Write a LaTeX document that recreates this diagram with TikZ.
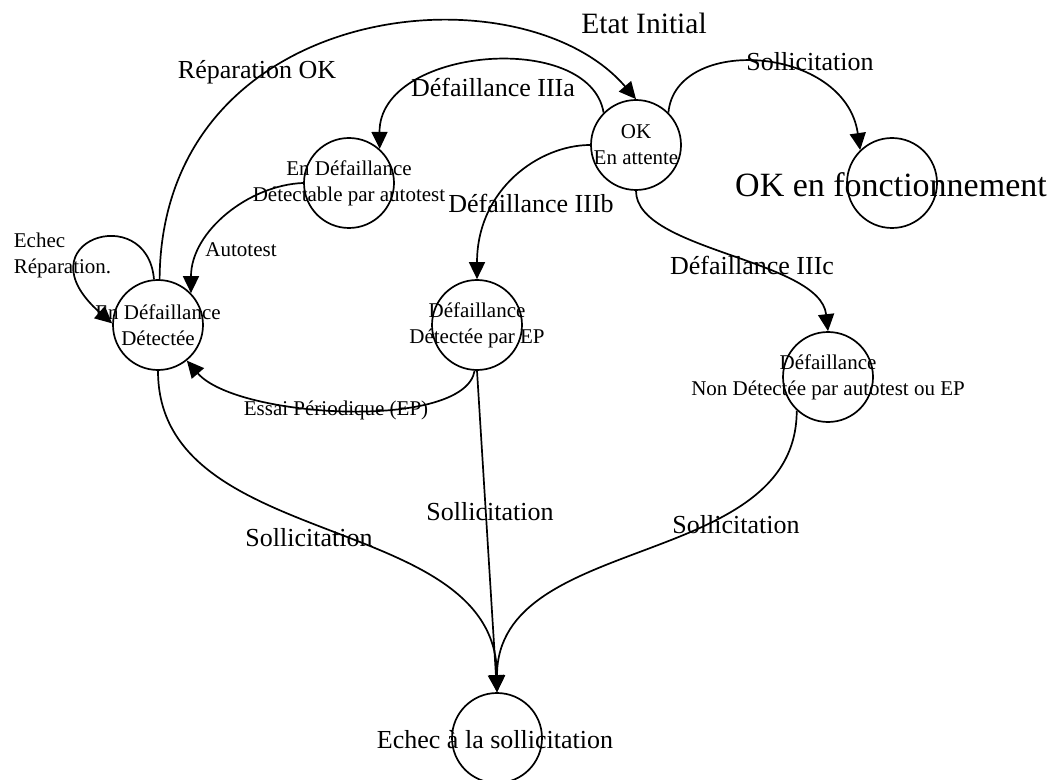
\documentclass[tikz,border=0pt]{standalone}
\usepackage{fontspec}
\setmainfont{Liberation Serif}
\usetikzlibrary{arrows.meta}
\begin{document}
\begin{tikzpicture}[x=0.5pt, y=0.5pt, line width=0.85pt, >={Triangle[length=8.5pt,width=8pt]}]
    % Define styles
    \tikzstyle{etat} = [draw, circle, minimum size=45pt, inner sep=0pt]
    \tikzstyle{txt} = [align=center, font=\fontsize{10.5}{13}\selectfont, inner sep=0pt]
    \tikzstyle{lab} = [font=\fontsize{13}{15}\selectfont, inner sep=0pt]
    \tikzstyle{petit} = [font=\fontsize{10.5}{13}\selectfont, inner sep=0pt]

    \useasboundingbox (0,0) rectangle (1058,-780);

    % States
    \node[etat] (ok) at (636,-145) {};
    \node[etat] (okf) at (892,-183) {};
    \node[etat] (dtable) at (349,-183) {};
    \node[etat] (dtee) at (158,-325) {};
    \node[etat] (dep) at (477,-325) {};
    \node[etat] (dnon) at (828,-377) {};
    \node[etat] (echec) at (497,-738) {};

    % State texts
    \node[txt] (okt) at (ok) {OK\\En attente};
    \node[font=\fontsize{17}{20}\selectfont, inner sep=0pt] (okft) at (891,-185) {OK en fonctionnement};
    \node[txt] (dtablet) at (dtable) {En Défaillance\\Détectable par autotest};
    \node[txt] (dteet) at (dtee) {En Défaillance\\Détectée};
    \node[txt] (dept) at (dep) {Défaillance\\Détectée par EP};
    \node[txt] (dnont) at (dnon) {Défaillance\\Non Détectée par autotest ou EP};
    \node[lab] (echect) at (495,-740) {Echec à la sollicitation};
    \node[font=\fontsize{14.75}{17}\selectfont, inner sep=0pt] (etatini) at (644,-23) {Etat Initial};

    % Transitions
    \draw[->] (dtee.88) .. controls +(2,280) and +(-116,135) .. (ok.north);
    \draw[->] (ok.135) .. controls +(-14,83) and +(-1,102) .. (dtable.48);
    \draw[->] (ok.45) .. controls +(7,78) and +(-15,105) .. (okf.134);
    \draw[->] (ok.west) .. controls +(-51,0) and +(0,90) .. (dep.north);
    \draw[->] (ok.south) .. controls +(0,-60) and +(-8,72) .. (dnon.north);
    \draw[->] (dtable.west) .. controls +(-54,-2) and +(0,62) .. (dtee.44);
    \draw[->] (dtee.95) .. controls +(-7,80) and +(-93,82) .. (dtee.178);
    \draw[->] (dep.-93) .. controls +(-10,-60) and +(50,-58) .. (dtee.-51);
    \draw[->] (dtee.south) to[out=-90, in=90] (echec.north);
    \draw[->] (dep.south) -- (echec.north);
    \draw[->] (dnon.-133) to[out=-90, in=90] (echec.north);

    % Transition labels
    \node[lab] (lrep) at (257,-72) {Réparation OK};
    \node[lab] (l3a) at (493,-87) {Défaillance IIIa};
    \node[lab] (lsolok) at (810,-62) {Sollicitation};
    \node[lab] (l3b) at (531,-203) {Défaillance IIIb};
    \node[lab] (l3c) at (752,-265) {Défaillance IIIc};
    \node[petit] (lauto) at (241,-250) {Autotest};
    \node[petit, align=left, anchor=west] (lechec) at (13,-255) {Echec\\Réparation.};
    \node[petit] (lep) at (336,-410) {Essai Périodique (EP)};
    \node[lab] (lsoltee) at (309,-538) {Sollicitation};
    \node[lab] (lsolep) at (490,-512) {Sollicitation};
    \node[lab] (lsolnon) at (736,-525) {Sollicitation};
\end{tikzpicture}
\end{document}
